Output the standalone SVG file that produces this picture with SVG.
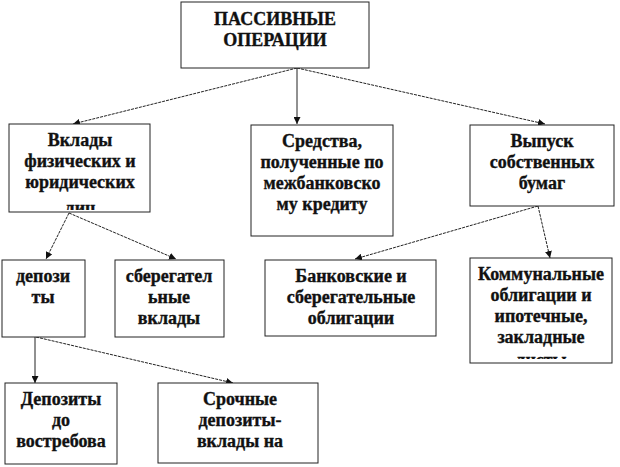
<svg xmlns="http://www.w3.org/2000/svg" width="620" height="467" viewBox="0 0 620 467">
<style>
.box{fill:#fff;stroke:#222;stroke-width:1}
.t{font-family:'Liberation Serif','Times New Roman',serif;font-weight:700;font-size:18px;fill:#111;stroke:#111;stroke-width:0.35;text-anchor:middle}
.c{stroke:#222;stroke-width:1;fill:none}
.d{stroke-dasharray:3,1}
</style>
<defs>
<marker id="ah" viewBox="0 0 10 10" refX="10" refY="5" markerWidth="7" markerHeight="7" orient="auto" markerUnits="userSpaceOnUse">
<path d="M0,0 L10,5 L0,10 z" fill="#111"/>
</marker>
<clipPath id="cl1"><rect x="9" y="124" width="141" height="86"/></clipPath>
<clipPath id="cl2"><rect x="470" y="258" width="142" height="101"/></clipPath>
<clipPath id="cl3"><rect x="158" y="383" width="160" height="78"/></clipPath>
</defs>
<rect width="620" height="467" fill="#fff"/>
<g id="connectors">
<line class="c d" x1="297" y1="68" x2="73" y2="124" marker-end="url(#ah)"/>
<line class="c" x1="297" y1="68" x2="297" y2="124" marker-end="url(#ah)"/>
<line class="c d" x1="297" y1="68" x2="545" y2="124" marker-end="url(#ah)"/>
<line class="c d" x1="69" y1="213" x2="46" y2="259" marker-end="url(#ah)"/>
<line class="c d" x1="69" y1="213" x2="176" y2="259" marker-end="url(#ah)"/>
<line class="c d" x1="538" y1="206" x2="355" y2="259" marker-end="url(#ah)"/>
<line class="c d" x1="538" y1="206" x2="550" y2="258" marker-end="url(#ah)"/>
<line class="c" x1="35" y1="337" x2="35" y2="383" marker-end="url(#ah)"/>
<line class="c d" x1="36" y1="337" x2="233" y2="383" marker-end="url(#ah)"/>
</g>
<g id="n-root">
<rect class="box" x="181" y="2" width="188" height="66"/>
<text class="t" x="275" y="25">ПАССИВНЫЕ</text>
<text class="t" x="275" y="46">ОПЕРАЦИИ</text>
</g>
<g id="n-vklady">
<rect class="box" x="9" y="124" width="141" height="88"/>
<g clip-path="url(#cl1)">
<text class="t" x="80" y="146">Вклады</text>
<text class="t" x="80" y="167">физических и</text>
<text class="t" x="80" y="188">юридических</text>
<text class="t" x="80" y="214">лиц</text>
</g>
</g>
<g id="n-sredstva">
<rect class="box" x="251" y="125" width="142" height="111"/>
<text class="t" x="322" y="147">Средства,</text>
<text class="t" x="322" y="168">полученные по</text>
<text class="t" x="322" y="189">межбанковско</text>
<text class="t" x="322" y="210">му кредиту</text>
</g>
<g id="n-vypusk">
<rect class="box" x="470" y="125" width="144" height="81"/>
<text class="t" x="542" y="147">Выпуск</text>
<text class="t" x="542" y="168">собственных</text>
<text class="t" x="542" y="189">бумаг</text>
</g>
<g id="n-depozity">
<rect class="box" x="2" y="260" width="83" height="77"/>
<text class="t" x="43" y="282">депози</text>
<text class="t" x="43" y="303">ты</text>
</g>
<g id="n-sberegatel">
<rect class="box" x="115" y="260" width="109" height="77"/>
<text class="t" x="169" y="282">сберегател</text>
<text class="t" x="169" y="303">ьные</text>
<text class="t" x="169" y="324">вклады</text>
</g>
<g id="n-bankovskie">
<rect class="box" x="265" y="260" width="171" height="76"/>
<text class="t" x="351" y="282">Банковские и</text>
<text class="t" x="351" y="303">сберегательные</text>
<text class="t" x="351" y="324">облигации</text>
</g>
<g id="n-kommunalnye">
<rect class="box" x="470" y="258" width="142" height="105"/>
<g clip-path="url(#cl2)">
<text class="t" x="541" y="280">Коммунальные</text>
<text class="t" x="541" y="301">облигации и</text>
<text class="t" x="541" y="322">ипотечные,</text>
<text class="t" x="541" y="343">закладные</text>
<text class="t" x="541" y="366">листы</text>
</g>
</g>
<g id="n-dovostreb">
<rect class="box" x="5" y="383" width="112" height="81"/>
<text class="t" x="61" y="405">Депозиты</text>
<text class="t" x="61" y="426">до</text>
<text class="t" x="61" y="447">востребова</text>
</g>
<g id="n-srochnye">
<rect class="box" x="158" y="383" width="160" height="80"/>
<g clip-path="url(#cl3)">
<text class="t" x="240" y="405">Срочные</text>
<text class="t" x="240" y="426">депозиты-</text>
<text class="t" x="240" y="447">вклады на</text>
</g>
</g>
</svg>
